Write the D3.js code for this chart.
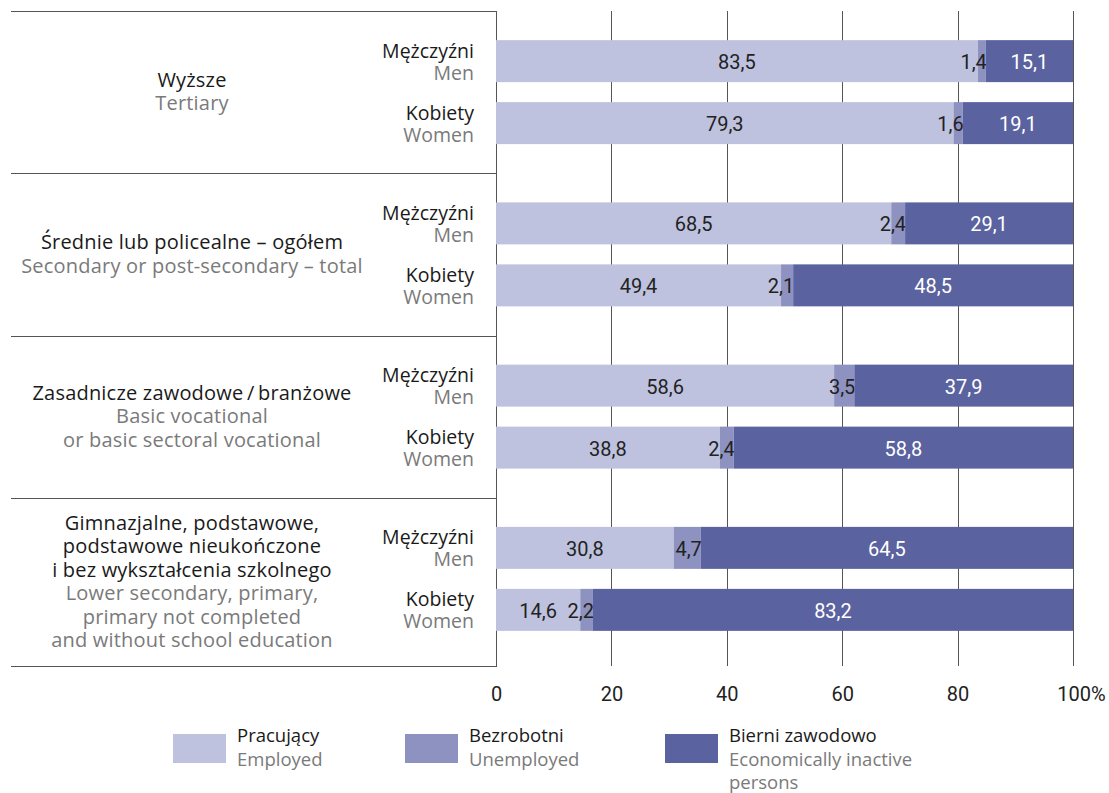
<!DOCTYPE html>
<html>
<head>
<meta charset="utf-8">
<script src="https://cdn.jsdelivr.net/npm/d3@7"></script>
<style>
  body { margin: 0; background: #fff; }
  text { font-family: "Open Sans", "Noto Sans", sans-serif; }
  .num { font-family: "Roboto", "Open Sans", sans-serif; }
</style>
</head>
<body>
<div id="container"></div>
<script>
var width = 1109,
    height = 793;

// data
var groupsPl = [
    ["Wyższe"],
    ["Średnie lub policealne – ogółem"],
    ["Zasadnicze zawodowe\u2009/\u2009branżowe"],
    ["Gimnazjalne, podstawowe,", "podstawowe nieukończone", "i bez wykształcenia szkolnego"]
];
var groupsEn = [
    ["Tertiary"],
    ["Secondary or post-secondary – total"],
    ["Basic vocational", "or basic sectoral vocational"],
    ["Lower secondary, primary,", "primary not completed", "and without school education"]
];
var sexPl = ["Mężczyźni", "Kobiety"];
var sexEn = ["Men", "Women"];

// rows: group 1 men, group 1 women, group 2 men, ...
var employed   = [83.5, 79.3, 68.5, 49.4, 58.6, 38.8, 30.8, 14.6];
var unemployed = [1.4, 1.6, 2.4, 2.1, 3.5, 2.4, 4.7, 2.2];
var inactive   = [15.1, 19.1, 29.1, 48.5, 37.9, 58.8, 64.5, 83.2];

var seriesKeys = ["employed", "unemployed", "inactive"];
var legendPl = ["Pracujący", "Bezrobotni", "Bierni zawodowo"];
var legendEn = [["Employed"], ["Unemployed"], ["Economically inactive", "persons"]];
var ticks = [0, 20, 40, 60, 80, 100];

var colors = ["#bec2de", "#8e92c0", "#5b62a0"];

var rows = employed.map(function (d, i) {
    return {
        group: Math.floor(i / 2),
        sex: i % 2,
        employed: d,
        unemployed: unemployed[i],
        inactive: inactive[i]
    };
});

var svg = d3.select("#container")
    .append("svg")
    .attr("width", width)
    .attr("height", height);

var x = d3.scaleLinear().domain([0, 100]).range([496, 1073]);
var plotTop = 11, plotBottom = 666;

var yGroup = d3.scaleBand().domain(d3.range(4)).range([plotTop, 660]);
var yInner = d3.scaleBand().domain([0, 1]).range([0, yGroup.bandwidth()])
    .paddingInner(0.3226).paddingOuter(0.47);

function rowY(d) { return yGroup(d.group) + yInner(d.sex); }

// gridlines
svg.append("g")
    .selectAll("line")
    .data(ticks)
    .enter().append("line")
    .attr("x1", function (d) { return Math.round(x(d)) + 0.5; })
    .attr("x2", function (d) { return Math.round(x(d)) + 0.5; })
    .attr("y1", plotTop)
    .attr("y2", plotBottom)
    .attr("stroke", "#555")
    .attr("stroke-width", 1);

// left box lines
var seps = [plotTop].concat(d3.range(1, 4).map(function (g) { return yGroup(g); })).concat([plotBottom]);
svg.append("g")
    .selectAll("line")
    .data(seps)
    .enter().append("line")
    .attr("x1", 11)
    .attr("x2", x(0) + 1)
    .attr("y1", function (d) { return Math.round(d) + 0.5; })
    .attr("y2", function (d) { return Math.round(d) + 0.5; })
    .attr("stroke", "#555")
    .attr("stroke-width", 1);

// stacked bars
var stack = d3.stack().keys(seriesKeys);
var stacked = stack(rows);

var layers = svg.append("g")
    .selectAll("g")
    .data(stacked)
    .enter().append("g")
    .attr("fill", function (d, i) { return colors[i]; });

layers.selectAll("rect")
    .data(function (d) { return d; })
    .enter().append("rect")
    .attr("x", function (d) { return x(d[0]); })
    .attr("width", function (d) { return x(d[1]) - x(d[0]); })
    .attr("y", function (d) { return rowY(d.data); })
    .attr("height", yInner.bandwidth());

// value labels
layers.each(function (layer, li) {
    d3.select(this).selectAll("text")
        .data(layer)
        .enter().append("text")
        .attr("class", "num")
        .attr("font-size", 20)
        .attr("fill", li === 2 ? "#fff" : "#222")
        .attr("text-anchor", li === 1 ? "end" : "middle")
        .attr("x", function (d) {
            return li === 1 ? x(d[1]) + 1 : (x(d[0]) + x(d[1])) / 2;
        })
        .attr("y", function (d) { return rowY(d.data) + yInner.bandwidth() / 2 + 8; })
        .text(function (d) { return d3.format(".1f")(d[1] - d[0]).replace(".", ","); });
});

// sex labels
var sexG = svg.append("g")
    .selectAll("g")
    .data(rows)
    .enter().append("g")
    .attr("transform", function (d) {
        return "translate(474," + (rowY(d) + yInner.bandwidth() / 2) + ")";
    });
sexG.append("text")
    .attr("text-anchor", "end")
    .attr("font-size", 19.5)
    .attr("fill", "#1a1a1a")
    .attr("y", -3.5)
    .text(function (d) { return sexPl[d.sex]; });
sexG.append("text")
    .attr("text-anchor", "end")
    .attr("font-size", 19.5)
    .attr("fill", "#7a7a7a")
    .attr("y", 18.5)
    .text(function (d) { return sexEn[d.sex]; });

// group labels
var lh = 23.5;
d3.range(4).forEach(function (g) {
    var lines = groupsPl[g].map(function (t) { return { t: t, c: "#1a1a1a" }; })
        .concat(groupsEn[g].map(function (t) { return { t: t, c: "#7a7a7a" }; }));
    var mid = (seps[g] + seps[g + 1]) / 2;
    var first = mid - (lines.length - 1) * lh / 2 + 6.5;
    svg.append("g")
        .selectAll("text")
        .data(lines)
        .enter().append("text")
        .attr("x", 192)
        .attr("y", function (d, i) { return first + i * lh; })
        .attr("text-anchor", "middle")
        .attr("font-size", 20)
        .attr("letter-spacing", 0.2)
        .attr("fill", function (d) { return d.c; })
        .text(function (d) { return d.t; });
});

// x axis
var axis = svg.append("g")
    .attr("transform", "translate(0," + 701 + ")")
    .call(d3.axisBottom(x).tickValues(ticks).tickSize(0).tickPadding(0)
        .tickFormat(function (d) { return d === 100 ? "100%" : d; }));
axis.select(".domain").remove();
axis.selectAll("text")
    .attr("class", "num")
    .attr("font-size", 20)
    .attr("fill", "#222")
    .attr("dy", 0)
    .attr("dx", function (d) { return d === 100 ? 8 : 0; })
    .style("font-family", "Roboto, sans-serif");

// legend
var legendX = [173, 405, 665];
var legend = svg.append("g")
    .selectAll("g")
    .data(seriesKeys)
    .enter().append("g")
    .attr("transform", function (d, i) { return "translate(" + legendX[i] + ",734)"; });
legend.append("rect")
    .attr("width", 53)
    .attr("height", 29)
    .attr("fill", function (d, i) { return colors[i]; });
legend.append("text")
    .attr("x", 64)
    .attr("y", 8)
    .attr("font-size", 18.5)
    .attr("fill", "#1a1a1a")
    .text(function (d, i) { return legendPl[i]; });
legend.each(function (d, i) {
    d3.select(this).selectAll("text.en")
        .data(legendEn[i])
        .enter().append("text")
        .attr("class", "en")
        .attr("x", 64)
        .attr("y", function (t, j) { return 32 + j * 23; })
        .attr("font-size", 18.5)
        .attr("fill", "#7a7a7a")
        .text(function (t) { return t; });
});
</script>
</body>
</html>
